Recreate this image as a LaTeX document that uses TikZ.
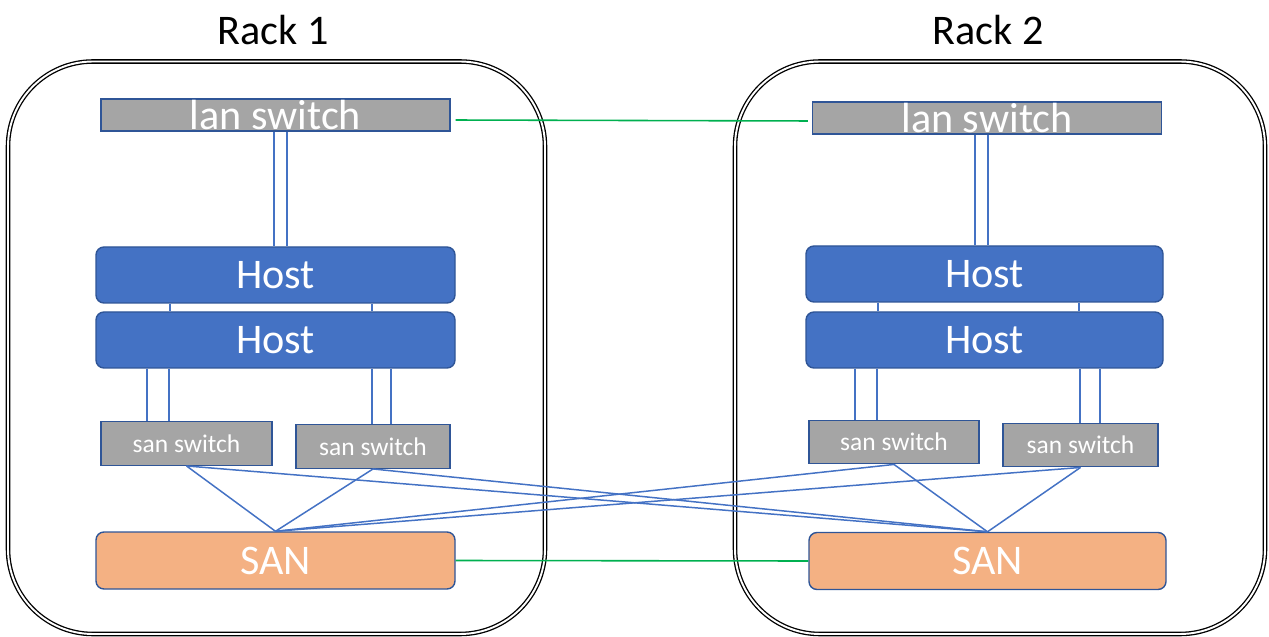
\documentclass[tikz,border=0pt]{standalone}
\usepackage{fontspec}
\setmainfont{Carlito}
\definecolor{hostblue}{HTML}{4472C4}
\definecolor{edgeblue}{HTML}{2F5597}
\definecolor{switchgray}{HTML}{A5A5A5}
\definecolor{sanorange}{HTML}{F4B183}
\definecolor{linkgreen}{HTML}{00B050}
\begin{document}
\begin{tikzpicture}
	\tikzstyle{every node}=[font=\fontsize{24}{28}\selectfont]
	\tikzstyle{rack}=[draw=black, line width=0.75pt, double=white, double distance=1.1pt, rounded corners=1.7cm]
	\tikzstyle{lanbox}=[draw=edgeblue, line width=0.8pt, fill=switchgray, text=white, minimum width=6.98cm, minimum height=0.64cm, inner sep=0pt]
	\tikzstyle{hostbox}=[draw=edgeblue, line width=0.8pt, fill=hostblue, text=white, rounded corners=0.16cm, minimum height=1.12cm, inner sep=0pt]
	\tikzstyle{sanswitch}=[draw=edgeblue, line width=0.8pt, fill=switchgray, text=white, font=\fontsize{14.5}{17}\selectfont, minimum height=0.87cm, inner sep=0pt]
	\tikzstyle{sanbox}=[hostbox, fill=sanorange, minimum height=1.14cm]
	\tikzstyle{wire}=[hostblue, line width=0.85pt]
	\tikzstyle{link}=[linkgreen, line width=0.9pt]
	\useasboundingbox (0,0) rectangle (25.38,-12.74);

	% racks
	\draw [rack] (0.16,-1.23) rectangle (10.9,-12.68);
	\draw [rack] (14.7,-1.23) rectangle (25.3,-12.68);
	\node (rack1) at (5.46,-0.6) {Rack 1};
	\node (rack2) at (19.76,-0.6) {Rack 2};

	\node [lanbox] (lan1) at (5.51,-2.30) {lan switch};
	\node [lanbox] (lan2) at (19.74,-2.36) {lan switch};
	\node [hostbox, minimum width=7.18cm] (host1a) at (5.51,-5.50) {Host};
	\node [hostbox, minimum width=7.18cm] (host1b) at (5.51,-6.80) {Host};
	\node [hostbox, minimum width=7.14cm] (host2a) at (19.69,-5.48) {Host};
	\node [hostbox, minimum width=7.14cm] (host2b) at (19.69,-6.80) {Host};
	\node [sanswitch, minimum width=3.42cm] (sw11) at (3.73,-8.87) {san switch};
	\node [sanswitch, minimum width=3.08cm] (sw12) at (7.46,-8.93) {san switch};
	\node [sanswitch, minimum width=3.40cm] (sw21) at (17.88,-8.84) {san switch};
	\node [sanswitch, minimum width=3.10cm] (sw22) at (21.61,-8.90) {san switch};
	\node [sanbox, minimum width=7.18cm] (san1) at (5.51,-11.21) {SAN};
	\node [sanbox, minimum width=7.14cm] (san2) at (19.75,-11.22) {SAN};

	% lan uplinks
	\foreach \dx in {-0.03,0.23} \draw [wire] ([xshift=\dx cm]lan1.south) -- ([xshift=\dx cm]lan1.south |- host1a.north);
	\foreach \dx in {-0.24,0.02} \draw [wire] ([xshift=\dx cm]lan2.south) -- ([xshift=\dx cm]lan2.south |- host2a.north);
	\foreach \dx in {-2.11,1.93} \draw [wire] ([xshift=\dx cm]host1a.south) -- ([xshift=\dx cm]host1b.north);
	\foreach \dx in {-2.13,1.89} \draw [wire] ([xshift=\dx cm]host2a.south) -- ([xshift=\dx cm]host2b.north);

	% host to san switch
	\foreach \dx in {-2.57,-2.13} \draw [wire] ([xshift=\dx cm]host1b.south) -- ([xshift=\dx cm]host1b.south |- sw11.north);
	\foreach \dx in {1.93,2.31} \draw [wire] ([xshift=\dx cm]host1b.south) -- ([xshift=\dx cm]host1b.south |- sw12.north);
	\foreach \dx in {-2.59,-2.15} \draw [wire] ([xshift=\dx cm]host2b.south) -- ([xshift=\dx cm]host2b.south |- sw21.north);
	\foreach \dx in {1.91,2.31} \draw [wire] ([xshift=\dx cm]host2b.south) -- ([xshift=\dx cm]host2b.south |- sw22.north);

	% fabric
	\foreach \sw in {sw11,sw12,sw21,sw22} {
		\draw [wire] (\sw.south) -- (san1.north);
		\draw [wire] (\sw.south) -- (san2.north);
	}

	\draw [link, shorten <=0.1cm, shorten >=0.08cm] ([yshift=-0.1cm]lan1.east) -- ([yshift=-0.06cm]lan2.west);
	\draw [link] (san1.east) -- (san2.west);
	%\draw [rack] (0,0) rectangle (1,1);
\end{tikzpicture}
\end{document}
